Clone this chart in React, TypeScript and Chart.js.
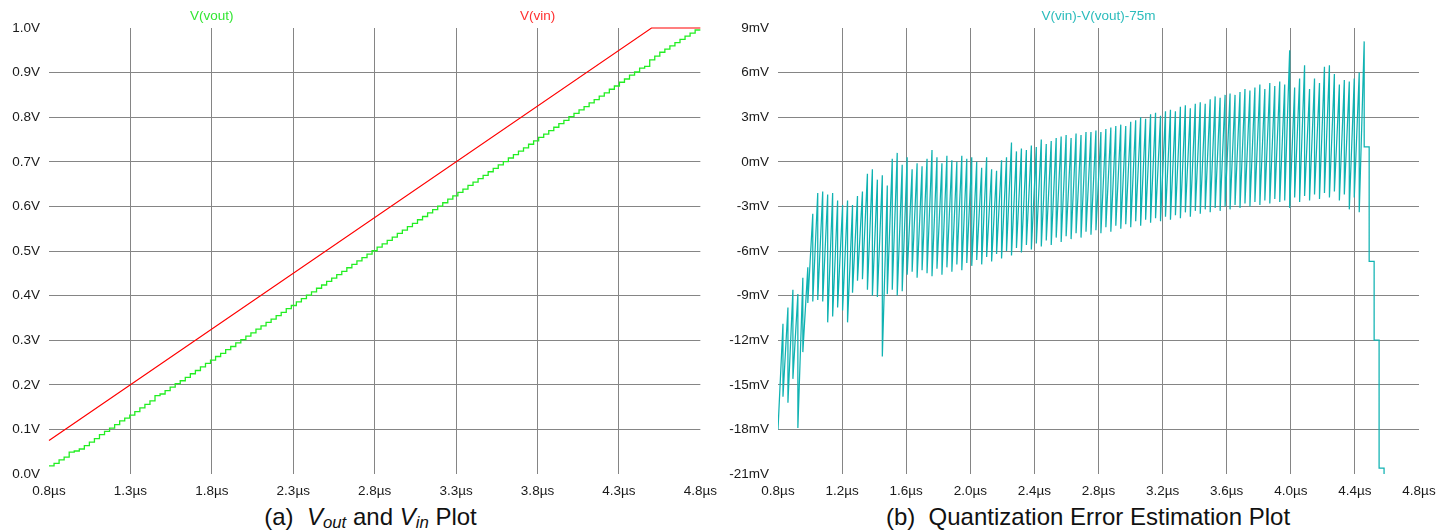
import { useEffect, useRef } from 'react';
import { Chart, registerables } from 'chart.js';

Chart.register(...registerables);

// ---- data -------------------------------------------------------------

// Sampling clock of the converter (µs)
const CLOCK_START_US = 0.8;
const CLOCK_PERIOD_US = 0.031;

// Input ramp V(vin): corner points (time in µs, value in V)
const VIN_TIME_US = [0.8, 4.5, 4.8];
const VIN_VOLTS = [0.075, 1.0, 1.0];

// Output staircase V(vout): level held during each clock period (V)
const VOUT_LEVELS_V = [
  0.0180, 0.0236, 0.0317, 0.0379, 0.0489, 0.0516, 0.0560, 0.0637, 0.0713, 0.0792,
  0.0883, 0.0957, 0.1028, 0.1108, 0.1193, 0.1251, 0.1320, 0.1397, 0.1481, 0.1563,
  0.1641, 0.1759, 0.1794, 0.1869, 0.1950, 0.2025, 0.2091, 0.2167, 0.2248, 0.2321,
  0.2400, 0.2480, 0.2552, 0.2634, 0.2706, 0.2787, 0.2859, 0.2941, 0.3013, 0.3093,
  0.3166, 0.3247, 0.3319, 0.3400, 0.3472, 0.3553, 0.3625, 0.3706, 0.3778, 0.3859,
  0.3931, 0.4012, 0.4085, 0.4165, 0.4238, 0.4319, 0.4391, 0.4472, 0.4545, 0.4625,
  0.4698, 0.4779, 0.4852, 0.4932, 0.5006, 0.5086, 0.5159, 0.5240, 0.5313, 0.5393,
  0.5467, 0.5547, 0.5620, 0.5701, 0.5774, 0.5854, 0.5928, 0.6008, 0.6082, 0.6162,
  0.6236, 0.6316, 0.6389, 0.6470, 0.6543, 0.6623, 0.6697, 0.6777, 0.6851, 0.6931,
  0.7005, 0.7085, 0.7159, 0.7239, 0.7313, 0.7393, 0.7467, 0.7547, 0.7621, 0.7701,
  0.7775, 0.7855, 0.7931, 0.8014, 0.8084, 0.8165, 0.8238, 0.8319, 0.8392, 0.8473,
  0.8546, 0.8627, 0.8700, 0.8784, 0.8857, 0.8945, 0.9014, 0.9102, 0.9140, 0.9287,
  0.9370, 0.9456, 0.9528, 0.9601, 0.9674, 0.9745, 0.9816, 0.9886, 0.9955,
];
const END_TIME_US = 4.8;

// V(vin)-V(vout)-75m: value at the start (trough) and end (peak) of each clock period (mV)
const ERR_TROUGH_MV = [
  -18.0, -15.8, -16.2, -14.6, -17.9, -12.8, -9.5, -9.4, -9.3, -9.4,
  -10.8, -10.4, -9.8, -10.0, -10.8, -8.8, -8.0, -7.9, -8.6, -9.0,
  -9.1, -13.1, -8.9, -8.6, -9.0, -8.7, -7.6, -7.4, -7.8, -7.3,
  -7.5, -7.7, -7.2, -7.6, -7.1, -7.4, -6.9, -7.3, -6.8, -7.0,
  -6.6, -6.9, -6.4, -6.7, -6.2, -6.5, -6.0, -6.3, -5.8, -6.1,
  -5.6, -5.9, -5.5, -5.7, -5.3, -5.6, -5.1, -5.4, -5.0, -5.2,
  -4.8, -5.1, -4.7, -4.9, -4.6, -4.8, -4.4, -4.7, -4.3, -4.5,
  -4.2, -4.4, -4.0, -4.3, -3.9, -4.1, -3.8, -4.0, -3.7, -3.9,
  -3.6, -3.8, -3.4, -3.7, -3.3, -3.5, -3.2, -3.4, -3.1, -3.3,
  -3.0, -3.2, -2.9, -3.1, -2.8, -3.0, -2.7, -2.9, -2.6, -2.8,
  -2.5, -2.7, -2.6, -3.1, -2.4, -2.7, -2.3, -2.6, -2.2, -2.5,
  -2.1, -2.4, -2.0, -2.6, -2.2, -3.2, -2.4, -3.4,
];
const ERR_PEAK_MV = [
  -10.9, -9.8, -8.6, -8.9, -7.8, -7.1, -3.5, -2.1, -2.0, -2.2,
  -2.1, -2.6, -2.9, -2.6, -2.9, -2.3, -2.0, -0.8, -0.5, -1.2,
  -0.9, -1.6, 0.2, 0.6, -0.2, 0.3, -0.5, -0.1, -0.3, 0.2,
  0.8, 0.3, -0.1, 0.4, 0.1, 0.0, 0.4, 0.2, 0.3, 0.0,
  -0.4, 0.3, -0.5, -0.6, 0.1, 0.3, 1.3, 0.7, 0.9, 0.8,
  1.1, 1.0, 1.5, 1.2, 1.4, 1.6, 1.7, 1.8, 1.6, 1.9,
  1.8, 2.0, 2.0, 2.1, 2.0, 2.2, 2.3, 2.4, 2.5, 2.4,
  2.7, 2.8, 3.0, 2.9, 3.2, 3.3, 3.1, 3.4, 3.5, 3.4,
  3.7, 3.8, 3.6, 3.9, 4.0, 3.9, 4.2, 4.4, 4.3, 4.5,
  4.6, 4.5, 4.7, 4.9, 4.8, 5.0, 5.2, 4.9, 5.3, 5.1,
  5.4, 5.2, 7.5, 5.0, 5.6, 6.5, 4.9, 5.6, 5.3, 6.4,
  6.5, 5.9, 5.2, 5.5, 5.4, 5.6, 6.0, 8.1,
];
// After the input saturates the error falls one step per clock (mV)
const ERR_TAIL_MV = [1.0, -6.7, -12.0, -20.6, -27.8];

// Axis ticks
const X_TICKS_A = [0.8, 1.3, 1.8, 2.3, 2.8, 3.3, 3.8, 4.3, 4.8];
const Y_TICKS_A = [0.0, 0.1, 0.2, 0.3, 0.4, 0.5, 0.6, 0.7, 0.8, 0.9, 1.0];
const X_TICKS_B = [0.8, 1.2, 1.6, 2.0, 2.4, 2.8, 3.2, 3.6, 4.0, 4.4, 4.8];
const Y_TICKS_B = [-21, -18, -15, -12, -9, -6, -3, 0, 3, 6, 9];

// ---- styling ----------------------------------------------------------

const FONT = "'Liberation Sans', Arial, Helvetica, sans-serif";
const GRID_COLOR = '#858585';
const TICK_COLOR = '#1a1a1a';
const RED = '#ff0000';
const GREEN = '#22ee22';
const TEAL = '#0fb2b2';

const clockTime = (k: number) => CLOCK_START_US + k * CLOCK_PERIOD_US;

// ---- point tables -----------------------------------------------------

const vinPoints = VIN_TIME_US.map((t, i) => ({ x: t, y: VIN_VOLTS[i] }));

const voutPoints = [
  ...VOUT_LEVELS_V.map((v, k) => ({ x: clockTime(k), y: v })),
  { x: END_TIME_US, y: VOUT_LEVELS_V[VOUT_LEVELS_V.length - 1] },
];

const errPoints: { x: number; y: number }[] = [];
ERR_TROUGH_MV.forEach((low, k) => {
  errPoints.push({ x: clockTime(k), y: low });
  errPoints.push({ x: clockTime(k + 1), y: ERR_PEAK_MV[k] });
});
ERR_TAIL_MV.forEach((level, j) => {
  const k = ERR_TROUGH_MV.length + j;
  errPoints.push({ x: clockTime(k), y: level });
  errPoints.push({ x: clockTime(k + 1), y: level });
});

// ---- helpers ----------------------------------------------------------

// Grid lines only on inner ticks; the frame edges stay open
const innerGrid = (count: number) => ({
  color: (ctx: any) => (ctx.index === 0 || ctx.index === count - 1 ? 'rgba(0,0,0,0)' : GRID_COLOR),
  lineWidth: 1,
  drawTicks: false,
});

// Signal names written above the plot, centred on an x value
const seriesTitlePlugin = {
  id: 'seriesTitles',
  afterDraw(chart: any, _args: any, opts: any) {
    const { ctx, scales } = chart;
    ctx.save();
    ctx.font = `13.5px ${FONT}`;
    ctx.textAlign = 'center';
    ctx.textBaseline = 'middle';
    for (const item of opts.items || []) {
      ctx.fillStyle = item.color;
      ctx.fillText(item.text, scales.x.getPixelForValue(item.at), opts.y);
    }
    ctx.restore();
  },
};

function buildConfig(p: {
  datasets: any[];
  xTicks: number[];
  yTicks: number[];
  xFormat: (v: number) => string;
  yFormat: (v: number) => string;
  yAxisWidth: number;
  padRight: number;
  titles: { text: string; color: string; at: number }[];
}): any {
  return {
    type: 'line',
    data: { datasets: p.datasets },
    plugins: [seriesTitlePlugin],
    options: {
      animation: false,
      responsive: false,
      events: [],
      layout: { padding: { top: 28, right: p.padRight, bottom: 0, left: 0 } },
      plugins: {
        legend: { display: false },
        tooltip: { enabled: false },
        seriesTitles: { items: p.titles, y: 16 },
      },
      scales: {
        x: {
          type: 'linear',
          min: p.xTicks[0],
          max: p.xTicks[p.xTicks.length - 1],
          afterBuildTicks: (s: any) => {
            s.ticks = p.xTicks.map((value) => ({ value }));
          },
          afterFit: (s: any) => {
            s.height = 26;
          },
          grid: innerGrid(p.xTicks.length),
          border: { display: false },
          ticks: {
            autoSkip: false,
            maxRotation: 0,
            padding: 9,
            color: TICK_COLOR,
            font: { family: FONT, size: 13.5 },
            callback: (v: any) => p.xFormat(Number(v)),
          },
        },
        y: {
          type: 'linear',
          min: p.yTicks[0],
          max: p.yTicks[p.yTicks.length - 1],
          afterBuildTicks: (s: any) => {
            s.ticks = p.yTicks.map((value) => ({ value }));
          },
          afterFit: (s: any) => {
            s.width = p.yAxisWidth;
          },
          grid: innerGrid(p.yTicks.length),
          border: { display: false },
          ticks: {
            autoSkip: false,
            padding: 9,
            color: TICK_COLOR,
            font: { family: FONT, size: 13.5 },
            callback: (v: any) => p.yFormat(Number(v)),
          },
        },
      },
    },
  };
}

const configA = () =>
  buildConfig({
    datasets: [
      {
        label: 'V(vin)',
        data: vinPoints,
        borderColor: RED,
        borderWidth: 1.2,
        pointRadius: 0,
        tension: 0,
        clip: 4,
      },
      {
        label: 'V(vout)',
        data: voutPoints,
        borderColor: GREEN,
        borderWidth: 1.3,
        pointRadius: 0,
        stepped: true,
        clip: 4,
      },
    ],
    xTicks: X_TICKS_A,
    yTicks: Y_TICKS_A,
    xFormat: (v) => `${v.toFixed(1)}µs`,
    yFormat: (v) => `${v.toFixed(1)}V`,
    yAxisWidth: 49,
    padRight: 24,
    titles: [
      { text: 'V(vout)', color: '#33e633', at: 1.8 },
      { text: 'V(vin)', color: '#ff3030', at: 3.8 },
    ],
  });

const configB = () =>
  buildConfig({
    datasets: [
      {
        label: 'V(vin)-V(vout)-75m',
        data: errPoints,
        borderColor: TEAL,
        borderWidth: 1.25,
        pointRadius: 0,
        tension: 0,
      },
    ],
    xTicks: X_TICKS_B,
    yTicks: Y_TICKS_B,
    xFormat: (v) => `${v.toFixed(1)}µs`,
    yFormat: (v) => `${Math.round(v)}mV`,
    yAxisWidth: 52,
    padRight: 34,
    titles: [{ text: 'V(vin)-V(vout)-75m', color: '#2bbcbc', at: 2.8 }],
  });

// ---- component --------------------------------------------------------

const captionStyle = (left: number, width: number): React.CSSProperties => ({
  position: 'absolute',
  left,
  top: 505,
  width,
  textAlign: 'center',
  fontFamily: FONT,
  fontSize: 24,
  lineHeight: '24px',
  color: '#111',
  whiteSpace: 'pre',
});

const subStyle: React.CSSProperties = { fontSize: '0.7em', verticalAlign: '-3px', lineHeight: 0 };

export default function App() {
  const refA = useRef<HTMLCanvasElement>(null);
  const refB = useRef<HTMLCanvasElement>(null);

  useEffect(() => {
    const a = new Chart(refA.current as HTMLCanvasElement, configA());
    const b = new Chart(refB.current as HTMLCanvasElement, configB());
    return () => {
      a.destroy();
      b.destroy();
    };
  }, []);

  return (
    <div style={{ position: 'absolute', left: 0, top: 0, width: 1453, height: 531, background: '#fff' }}>
      <canvas ref={refA} width={726} height={500} style={{ position: 'absolute', left: 0, top: 0 }} />
      <canvas ref={refB} width={727} height={500} style={{ position: 'absolute', left: 726, top: 0 }} />
      <div style={captionStyle(4, 733)}>
        {'(a)\u00a0\u00a0'}
        <i>
          V<span style={subStyle}>out</span>
        </i>
        {' and '}
        <i>
          V<span style={subStyle}>in</span>
        </i>
        {' Plot'}
      </div>
      <div style={captionStyle(727, 722)}>{'(b)\u00a0\u00a0Quantization Error Estimation Plot'}</div>
    </div>
  );
}
